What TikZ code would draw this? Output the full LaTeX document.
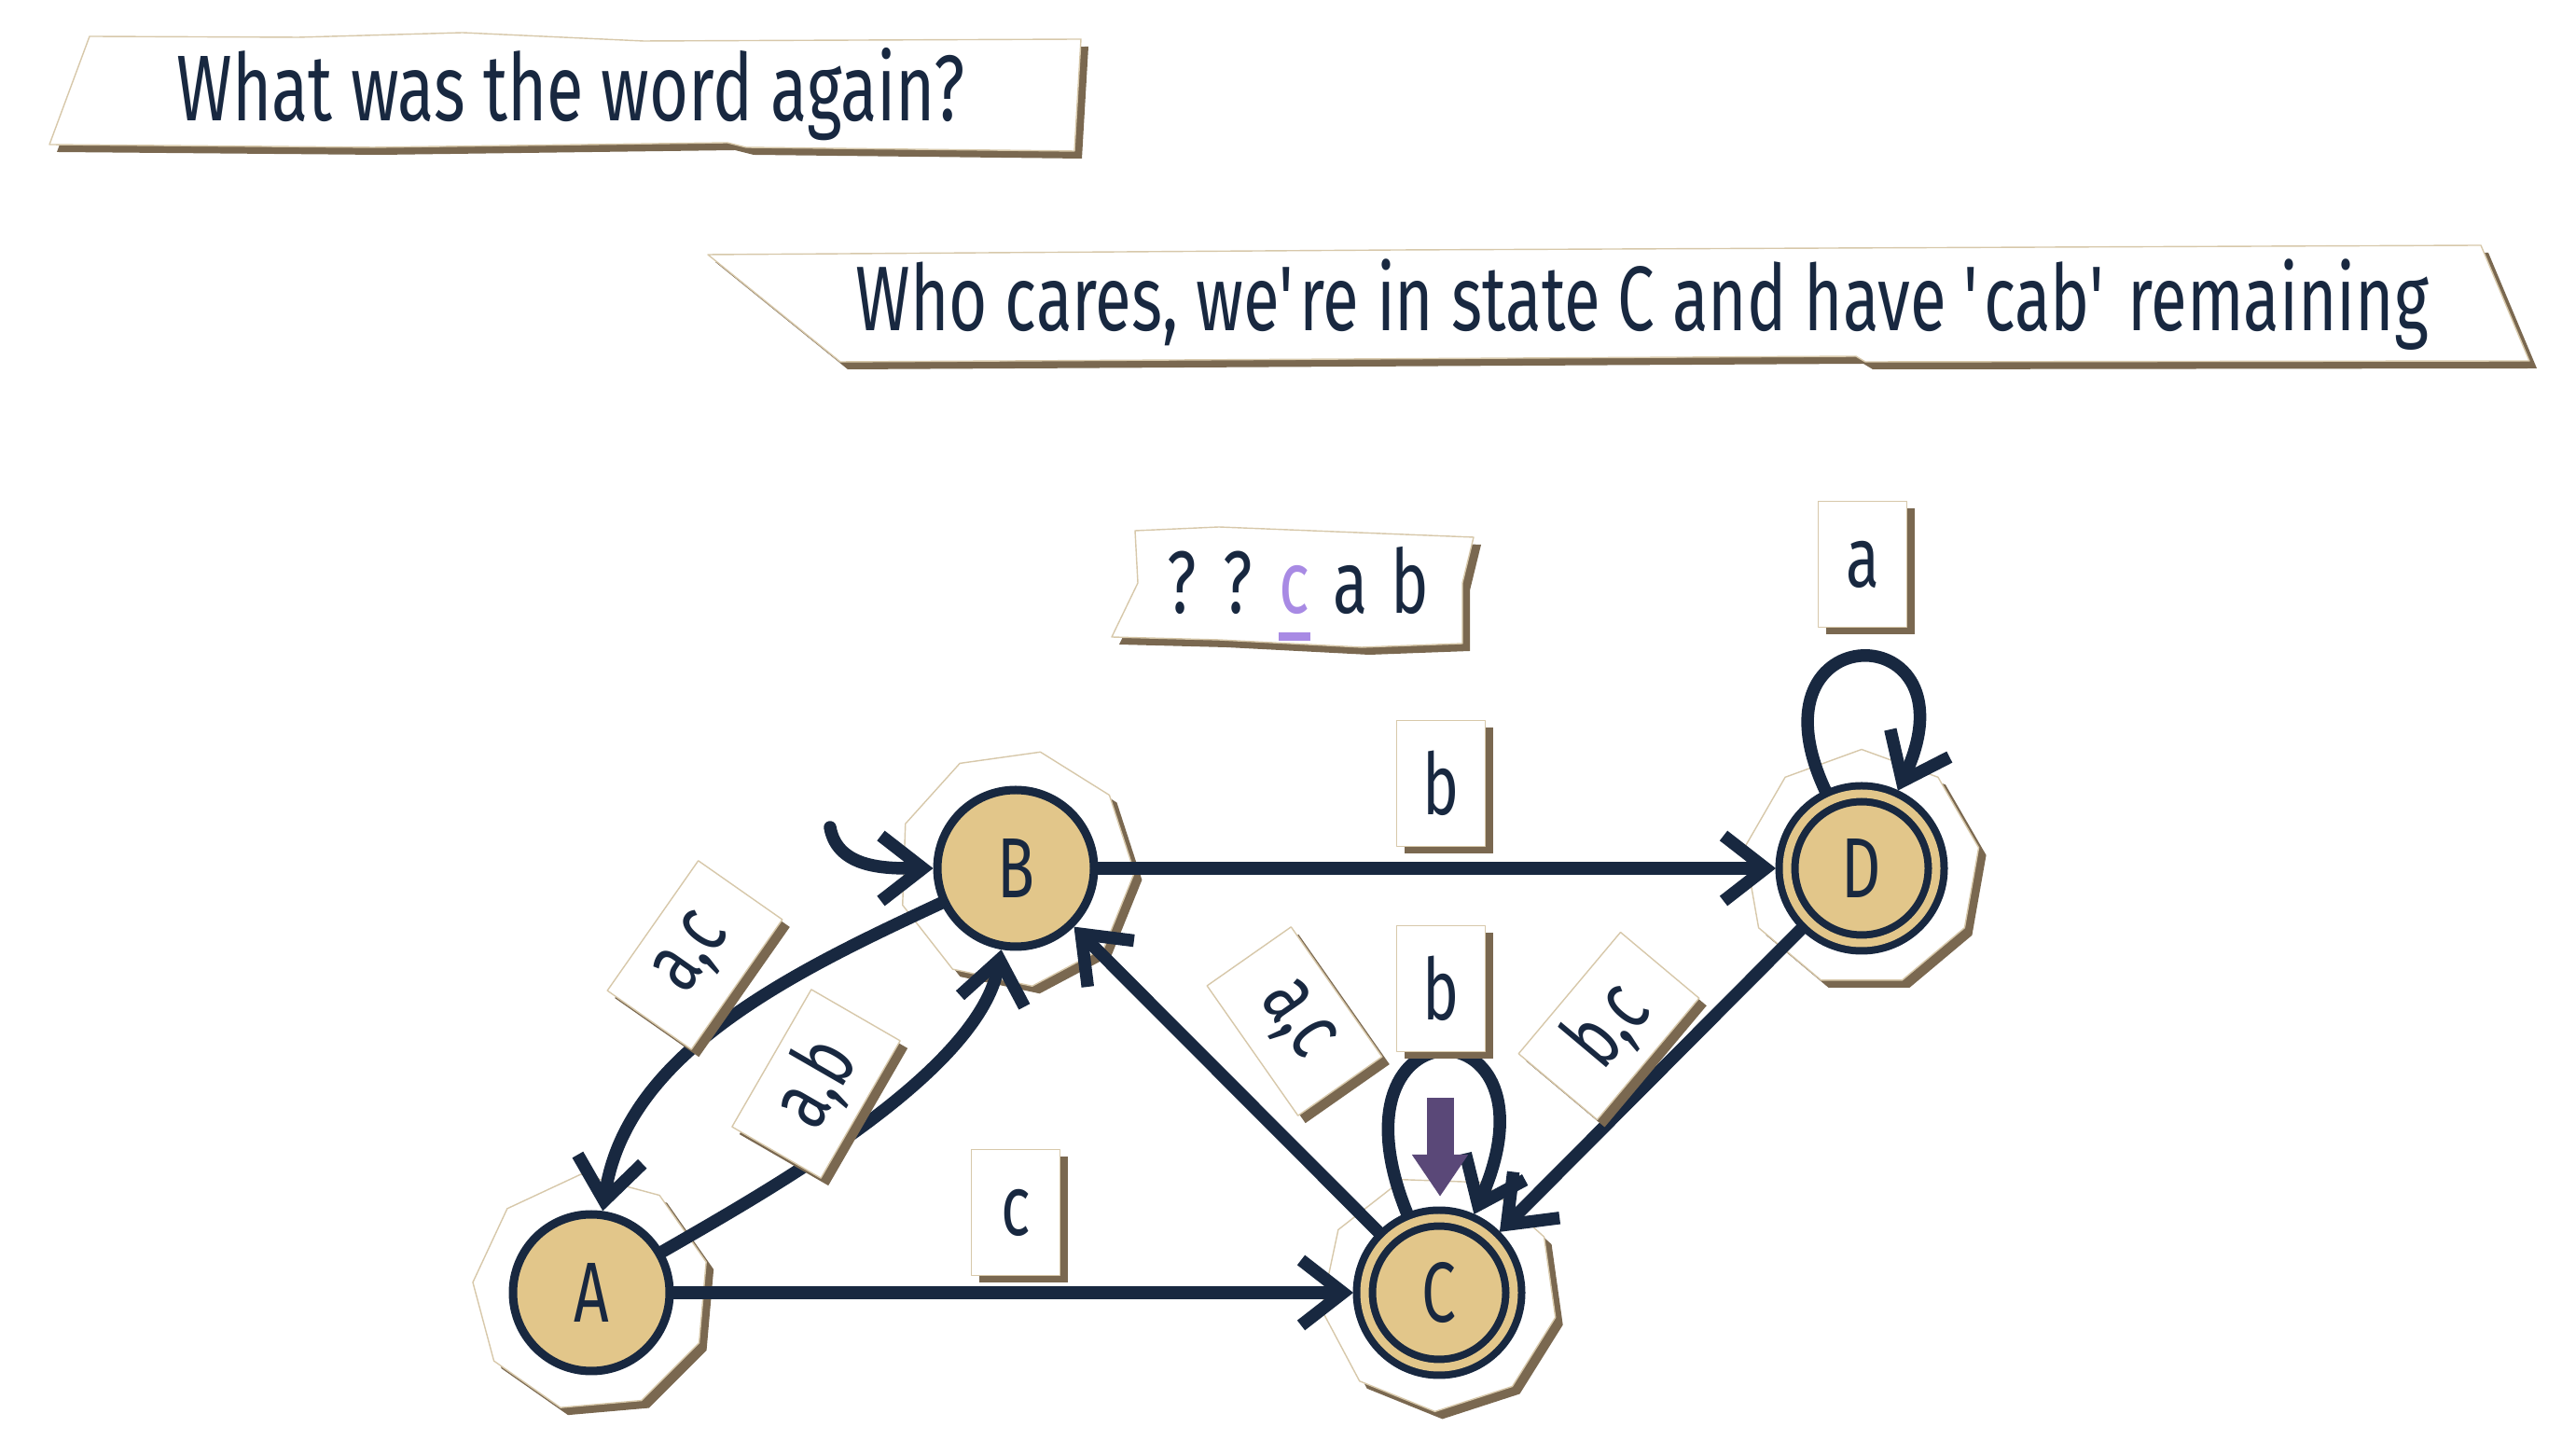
\documentclass[tikz,border=0pt]{standalone}
\usepackage{fontspec}
\setmainfont{Fira Sans}[FakeStretch=0.72]
\usetikzlibrary{arrows.meta,automata,positioning,shapes.geometric,shadows,backgrounds}

\definecolor{ink}{HTML}{182840}
\definecolor{tan}{HTML}{E2C68A}
\definecolor{paperbrown}{HTML}{7A6850}
\definecolor{paperedge}{HTML}{D7C8AA}
\definecolor{lilac}{HTML}{A88AE4}
\definecolor{plum}{HTML}{5A4878}

\begin{document}
\begin{tikzpicture}[
    > = {Straight Barb[length=4.5mm,width=7mm]}, % open arrow heads
    auto,
    on grid,
    node distance = 4.55cm and 4.55cm, % grid of the states
    font = \fontsize{26}{30}\selectfont,
    text = ink,
    line cap = round,
    line join = round
    ]

    \tikzset{every state/.style={
    draw = ink,
    fill = tan,
    line width = 0.9mm,
    minimum size = 1.68cm,
    inner sep = 0pt
    }}
    \tikzset{accepting/.style={
    double = tan,
    double distance = 0.9mm,
    line width = 0.8mm,
    minimum size = 1.6cm,
    outer sep = 1.2mm
    }}
    \tikzset{scrap/.style={
    fill = white,
    draw = paperedge,
    line width = 0.4pt,
    drop shadow = {shadow xshift=0.8mm, shadow yshift=-0.8mm, fill=paperbrown, opacity=1}
    }}
    \tikzset{nodescrap/.style={scrap, regular polygon, regular polygon sides=9, minimum size=2.55cm}}
    \tikzset{tagscrap/.style={scrap, minimum width=0.95cm, minimum height=1.35cm, inner sep=1pt}}
    \tikzset{widescrap/.style={scrap, minimum width=1.7cm, minimum height=1.1cm, inner sep=1pt}}
    \tikzset{wire/.style={->, draw=ink, line width=1.35mm}}

    \useasboundingbox (0,0) rectangle (27.62,-15.60);

    % the two speech strips
    \draw[scrap] (0.96,-0.39) -- (3.2,-0.40) -- (4.96,-0.35) -- (6.9,-0.44) -- (11.59,-0.42)
        -- (11.52,-1.62) -- (8.0,-1.58) -- (7.8,-1.53) -- (4.0,-1.58) -- (0.53,-1.55) -- cycle;
    \node[anchor=base, font=\fontsize{28.5}{32}\selectfont] (ask) at (6.12,-1.30) {What was the word again?};

    \draw[scrap] (7.59,-2.73) -- (15.0,-2.68) -- (26.60,-2.63) -- (27.12,-3.87)
        -- (20.0,-3.88) -- (19.9,-3.82) -- (9.01,-3.88) -- cycle;
    \node[anchor=base, font=\fontsize{28}{32}\selectfont] (reply) at (17.61,-3.55)
        {Who cares, we\textquotesingle re in state C and have \textquotesingle cab\textquotesingle\ remaining};

    % the word read so far
    \draw[scrap] (12.17,-5.69) -- (13.07,-5.65) -- (15.80,-5.76) -- (15.68,-6.25) -- (15.68,-6.90)
        -- (14.60,-6.94) -- (13.07,-6.86) -- (11.92,-6.83) -- (12.20,-6.25) -- cycle;
    \foreach \ch/\x/\col [count=\i] in {?/12.67/ink, ?/13.27/ink, c/13.88/lilac, a/14.48/ink, b/15.12/ink}
        \node[anchor=base, text=\col, font=\fontsize{27}{30}\selectfont] (w\i) at (\x,-6.58) {\ch};
    \draw[lilac, line width=0.9mm, line cap=butt] ([shift={(-0.17,-0.245)}]w3.base) -- ([shift={(0.17,-0.245)}]w3.base);

    % states
    \node[state] (A) at (6.34,-13.86) {A};
    \node[state] (B) [above right=of A] {B};
    \node[state,accepting] (C) [right=9.09cm of A] {C};
    \node[state,accepting] (D) [right=9.07cm of B] {D};

    \begin{scope}[on background layer]
    \foreach \n/\r in {A/5, B/-12, C/18, D/0}
        \node[nodescrap, rotate=\r] (s\n) at (\n) {};
    \end{scope}

    % start arrow
    \coordinate (init) at (8.90,-8.87);
    \draw[wire] (init) to[out=-80, in=180] (B);

    \path[wire] (B) edge[out=205, in=82, looseness=0.9] (A);
    \path[wire] (A) edge[out=30, in=-100, looseness=0.7] (B);
    \path[wire] (A) edge (C);
    \path[wire] (C) edge (B);
    \path[wire] (B) edge (D);
    \path[wire] (D) edge (C);
    \path[wire] (D) edge[out=115, in=65, min distance=2.1cm] (D);
    \path[wire] (C) edge[out=112, in=66, min distance=2.5cm] (C);

    % transition labels
    \node[tagscrap] (lDD) at (19.97,-6.05) {a};
    \node[tagscrap] (lBD) at (15.45,-8.40) {b};
    \node[widescrap, rotate=55] (lBA) at (7.45,-10.24) {a,c};
    \node[widescrap, rotate=60] (lAB) at (8.75,-11.62) {a,b};
    \node[tagscrap] (lAC) at (10.89,-13.0) {c};
    \node[widescrap, rotate=-55] (lCB) at (13.88,-10.95) {a,c};
    \node[tagscrap] (lCC) at (15.45,-10.60) {b};
    \node[widescrap, rotate=50] (lDC) at (17.25,-11.0) {b,c};

    % current position marker
    \coordinate (mtop) at (15.44,-11.77);
    \coordinate (mtip) at (15.44,-12.83);
    \draw[plum, line width=2.9mm, line cap=butt, -{Triangle[width=5.7mm,length=4.5mm]}] (mtop) -- (mtip);
\end{tikzpicture}
\end{document}
